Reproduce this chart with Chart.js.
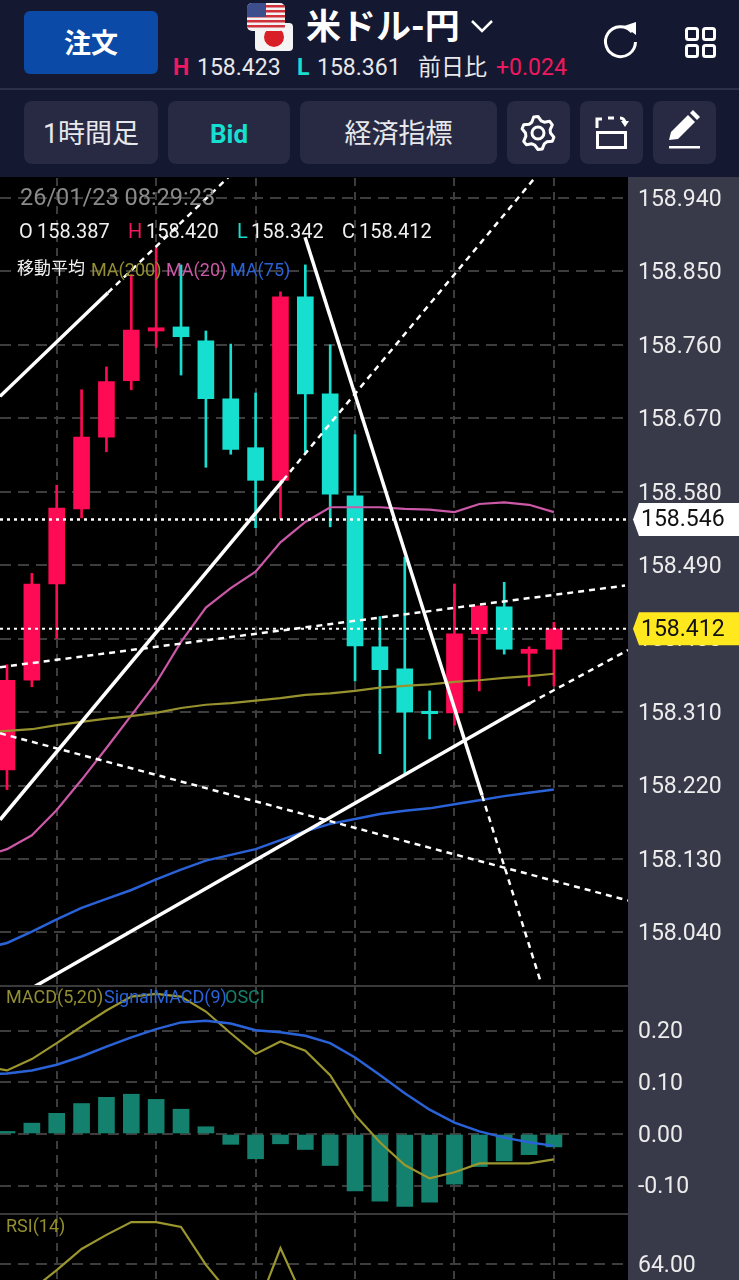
<!DOCTYPE html>
<html lang="ja">
<head>
<meta charset="utf-8">
<title>米ドル-円</title>
<script src="https://cdn.jsdelivr.net/npm/chart.js@4"></script>
<style>
  html, body { margin: 0; padding: 0; background: #000; }
  #page { position: relative; width: 739px; height: 1280px; overflow: hidden; background: #000;
    font-family: Roboto, "Noto Sans CJK JP", sans-serif; color: #fff; }
  #head { position: absolute; left: 0; top: 0; width: 739px; height: 177px; background: #141830; }
  #axisBg { position: absolute; left: 628px; top: 177px; width: 111px; height: 1103px; background: #383a4a; }
  canvas { position: absolute; left: 0; }
  .sep { position: absolute; left: 0; width: 628px; height: 2px; background: #3a3a3a; }
  .t { position: absolute; white-space: nowrap; }
  .btn { position: absolute; top: 101px; height: 63px; line-height: 66px; border-radius: 8px; background: #272a42;
    text-align: center; font-size: 27px; color: #e8e8ec; }
  svg { position: absolute; overflow: visible; }
</style>
</head>
<body>
<div id="page">
  <div id="head"></div>
  <div style="position:absolute;left:0;top:88px;width:739px;height:2px;background:#2b2f49"></div>

  <div style="position:absolute;left:24px;top:11px;width:134px;height:63px;border-radius:6px;background:#0b4aa6;text-align:center;line-height:66px;font-size:27px;font-weight:700">注文</div>

  <!-- 通貨ペアの国旗 -->
  <svg style="left:0;top:0" width="739" height="90">
    <defs><clipPath id="usClip"><rect x="247" y="3" width="38" height="28" rx="5"/></clipPath></defs>
    <rect x="255" y="23" width="38" height="28" rx="4" fill="#f4f4f4"/>
    <circle cx="274" cy="37" r="10" fill="#d81f26"/>
    <g clip-path="url(#usClip)">
      <rect x="247" y="3" width="38" height="28" fill="#f3f3f3"/>
      <rect x="247" y="5" width="38" height="2.5" fill="#d0303a"/>
      <rect x="247" y="10" width="38" height="2.5" fill="#d0303a"/>
      <rect x="247" y="15" width="38" height="2.5" fill="#d0303a"/>
      <rect x="247" y="20" width="38" height="2.5" fill="#d0303a"/>
      <rect x="247" y="25" width="38" height="2.5" fill="#d0303a"/>
      <rect x="247" y="3" width="19" height="14" fill="#3c4f8c"/>
    </g>
    <path d="M472 21l10 10 10-10" fill="none" stroke="#fff" stroke-width="2.5"/>
    <path d="M632 32a15 15 0 1 0 3.5 10" fill="none" stroke="#fff" stroke-width="3"/>
    <path d="M624 26l12-4v13z" fill="#fff"/>
    <g fill="none" stroke="#fff" stroke-width="3" >
      <rect x="686.5" y="28.5" width="11" height="11" rx="2"/>
      <rect x="703.5" y="28.5" width="11" height="11" rx="2"/>
      <rect x="686.5" y="45.5" width="11" height="11" rx="2"/>
      <rect x="703.5" y="45.5" width="11" height="11" rx="2"/>
    </g>
  </svg>

  <div class="t" style="left:306px;top:4px;line-height:48px;font-size:35px;font-weight:700">米ドル-円</div>
  <div class="t" style="left:173px;top:52px;line-height:32px;font-size:23px;font-weight:700;color:#f0185f">H</div>
  <div class="t" style="left:197px;top:52px;line-height:32px;font-size:23px;color:#e8e8ec">158.423</div>
  <div class="t" style="left:297px;top:52px;line-height:32px;font-size:23px;font-weight:700;color:#16dfd0">L</div>
  <div class="t" style="left:317px;top:52px;line-height:32px;font-size:23px;color:#e8e8ec">158.361</div>
  <div class="t" style="left:418px;top:52px;line-height:32px;font-size:23px;color:#e8e8ec">前日比</div>
  <div class="t" style="left:496px;top:52px;line-height:32px;font-size:23px;color:#f0185f">+0.024</div>

  <div class="btn" style="left:24px;width:134px">1時間足</div>
  <div class="btn" style="left:168px;width:122px;color:#16dfd0;font-weight:700;font-size:26px">Bid</div>
  <div class="btn" style="left:300px;width:197px">経済指標</div>
  <div class="btn" style="left:507px;width:63px"></div>
  <div class="btn" style="left:580px;width:63px"></div>
  <div class="btn" style="left:653px;width:63px"></div>

  <svg style="left:0;top:0" width="739" height="177">
    <path id="gear" fill="none" stroke="#fff" stroke-width="3" stroke-linejoin="round"/>
    <circle cx="538" cy="133" r="6" fill="none" stroke="#fff" stroke-width="3"/>
    <rect x="597.5" y="132.5" width="28" height="15" fill="none" stroke="#fff" stroke-width="3"/>
    <path d="M597 128v-9h5M608 118h6M620 118c3 0 5 2 5 6" fill="none" stroke="#fff" stroke-width="3"/>
    <path d="M621 121l4 6 4-6z" fill="#fff"/>
    <path d="M669 140l2-8 17-17 7 7-17 17z" fill="#fff"/>
    <path d="M690 113l3-3 7 7-3 3z" fill="#fff"/>
    <rect x="669" y="146" width="31" height="2.5" fill="#fff"/>
  </svg>

  <div id="axisBg"></div>
  <canvas id="mainChart" style="top:178px" width="739" height="808"></canvas>
  <div class="sep" style="top:985px"></div>
  <canvas id="macdChart" style="top:987px" width="739" height="227"></canvas>
  <div class="sep" style="top:1213px"></div>
  <canvas id="rsiChart" style="top:1215px" width="739" height="65"></canvas>

  <div class="t" style="left:20px;top:183px;line-height:28px;font-size:23.5px;color:#8a8a8a">26/01/23 08:29:23</div>
  <div class="t" style="left:19px;top:218px;line-height:26px;font-size:20px;color:#f0f0f0">O</div>
  <div class="t" style="left:37px;top:218px;line-height:26px;font-size:20px;color:#f0f0f0">158.387</div>
  <div class="t" style="left:128px;top:218px;line-height:26px;font-size:20px;color:#f0185f">H</div>
  <div class="t" style="left:146px;top:218px;line-height:26px;font-size:20px;color:#f0f0f0">158.420</div>
  <div class="t" style="left:237px;top:218px;line-height:26px;font-size:20px;color:#16dfd0">L</div>
  <div class="t" style="left:251px;top:218px;line-height:26px;font-size:20px;color:#f0f0f0">158.342</div>
  <div class="t" style="left:342px;top:218px;line-height:26px;font-size:20px;color:#f0f0f0">C</div>
  <div class="t" style="left:359px;top:218px;line-height:26px;font-size:20px;color:#f0f0f0">158.412</div>

  <div class="t" style="left:17px;top:256px;line-height:24px;font-size:17px;color:#f0f0f0">移動平均</div>
  <div class="t" style="left:91px;top:258px;line-height:24px;font-size:18px;color:#938f30">MA(200)</div>
  <div class="t" style="left:166px;top:258px;line-height:24px;font-size:18px;color:#cc58a8">MA(20)</div>
  <div class="t" style="left:230px;top:258px;line-height:24px;font-size:18px;color:#2a62d8">MA(75)</div>

  <div class="t" style="left:6px;top:985px;line-height:24px;font-size:18px;color:#938f30">MACD(5,20)</div>
  <div class="t" style="left:104px;top:985px;line-height:24px;font-size:18px;color:#2a62d8">SignalMACD(9)</div>
  <div class="t" style="left:225px;top:985px;line-height:24px;font-size:18px;color:#14806e">OSCI</div>
  <div class="t" style="left:6px;top:1214px;line-height:24px;font-size:18px;color:#938f30">RSI(14)</div>
</div>

<script>
// ローソク足 (1時間足)、先頭の1本は画面の左外
const opens  = [158.190, 158.239, 158.349, 158.467, 158.559, 158.647, 158.716, 158.777, 158.782, 158.765, 158.694, 158.634, 158.594, 158.819, 158.700, 158.575, 158.390, 158.363, 158.311, 158.309, 158.406, 158.439, 158.382, 158.387];
const highs  = [158.260, 158.368, 158.480, 158.588, 158.705, 158.733, 158.846, 158.880, 158.858, 158.777, 158.761, 158.701, 158.825, 158.858, 158.760, 158.650, 158.427, 158.500, 158.336, 158.467, 158.440, 158.469, 158.390, 158.420];
const lows   = [158.150, 158.215, 158.341, 158.400, 158.548, 158.629, 158.705, 158.757, 158.723, 158.610, 158.626, 158.536, 158.547, 158.628, 158.537, 158.348, 158.259, 158.235, 158.277, 158.294, 158.336, 158.381, 158.342, 158.342];
const closes = [158.239, 158.349, 158.467, 158.560, 158.647, 158.715, 158.778, 158.781, 158.770, 158.694, 158.632, 158.594, 158.819, 158.700, 158.577, 158.391, 158.362, 158.310, 158.308, 158.406, 158.440, 158.387, 158.387, 158.412];

// 移動平均
const ma200 = [158.285, 158.287, 158.289, 158.294, 158.298, 158.302, 158.305, 158.309, 158.315, 158.319, 158.321, 158.324, 158.327, 158.331, 158.333, 158.336, 158.340, 158.342, 158.344, 158.347, 158.349, 158.352, 158.354, 158.357];
const ma20  = [158.132, 158.142, 158.159, 158.190, 158.227, 158.266, 158.306, 158.346, 158.396, 158.438, 158.462, 158.482, 158.518, 158.543, 158.561, 158.561, 158.561, 158.559, 158.558, 158.555, 158.565, 158.567, 158.564, 158.555];
const ma75  = [158.020, 158.027, 158.041, 158.056, 158.070, 158.081, 158.092, 158.105, 158.117, 158.128, 158.135, 158.142, 158.153, 158.164, 158.173, 158.179, 158.185, 158.189, 158.192, 158.197, 158.202, 158.207, 158.211, 158.215];

// MACD / RSI
const macdLine   = [0.132, 0.123, 0.145, 0.176, 0.208, 0.239, 0.266, 0.271, 0.266, 0.237, 0.195, 0.155, 0.179, 0.161, 0.114, 0.037, -0.016, -0.060, -0.086, -0.074, -0.057, -0.057, -0.057, -0.049];
const signalLine = [0.115, 0.117, 0.123, 0.134, 0.150, 0.169, 0.187, 0.203, 0.216, 0.219, 0.214, 0.201, 0.197, 0.190, 0.176, 0.148, 0.114, 0.079, 0.047, 0.022, 0.005, -0.007, -0.016, -0.023];
const osci       = [0.017, 0.005, 0.021, 0.040, 0.059, 0.071, 0.077, 0.067, 0.048, 0.014, -0.020, -0.048, -0.019, -0.030, -0.061, -0.110, -0.130, -0.140, -0.132, -0.097, -0.063, -0.052, -0.040, -0.025];
const rsiLine    = [45.0, 49.6, 55.9, 62.1, 68.7, 73.1, 77.1, 77.1, 75.6, 63.7, 54.3, 49.0, 69.0, 51.8, 45.0, 33.0, 32.0, 30.0, 30.0, 46.0, 48.0, 44.0, 45.0, 48.0];

// 目盛り
const priceTicks = [158.04, 158.13, 158.22, 158.31, 158.40, 158.49, 158.58, 158.67, 158.76, 158.85, 158.94];
const macdTicks  = [-0.10, 0.00, 0.10, 0.20];
const rsiTicks   = [64];
const gridCandles = [2, 6, 10, 14, 18, 22];

// 水平線の価格
const bidPrice = 158.546;
const lastPrice = 158.412;

// トレンドライン [足の番号, 価格]
const trendSolid = [
  [[-0.28, 158.697], [4.06, 158.824]],
  [[-0.28, 158.178], [11.10, 158.594]],
  [[1.13, 157.974], [21.04, 158.321]],
  [[11.99, 158.892], [19.11, 158.208]]
];
const trendDotted = [
  [[4.06, 158.824], [8.89, 158.965]],
  [[11.10, 158.594], [21.24, 158.965]],
  [[21.04, 158.321], [24.98, 158.386]],
  [[19.11, 158.208], [21.48, 157.978]],
  [[-0.28, 158.365], [24.86, 158.465]],
  [[-0.28, 158.284], [24.98, 158.079]]
];

const UP = "#ff0a54";
const DOWN = "#16dfd0";
const indexes = opens.map((_, i) => i);
const xMin = -0.2816;
const xMax = 24.98;

const series = (values) => indexes.map((i) => ({ x: i - 1, y: values[i] }));
const segment = (pts) => pts.map((p) => ({ x: p[0], y: p[1] }));

const lineSet = (data, color, width, order, dash) => ({
  type: "line",
  data: data,
  borderColor: color,
  borderWidth: width,
  borderDash: dash || [],
  pointRadius: 0,
  tension: 0,
  fill: false,
  order: order,
});

// 3つのペインで共通のオプション
const paneOptions = (yMin, yMax, ticks, digits) => ({
  responsive: false,
  animation: false,
  events: [],
  layout: { padding: 0 },
  plugins: { legend: { display: false }, tooltip: { enabled: false } },
  scales: {
    x: {
      type: "linear",
      min: xMin,
      max: xMax,
      offset: false,
      afterBuildTicks: (scale) => { scale.ticks = gridCandles.map((v) => ({ value: v })); },
      afterFit: (scale) => { scale.height = 0; },
      ticks: { display: false },
      grid: { color: "#3d3d3d", lineWidth: 2, offset: false, drawTicks: false },
      border: { display: false, dash: [8, 6] },
    },
    y: {
      position: "right",
      min: yMin,
      max: yMax,
      afterBuildTicks: (scale) => { scale.ticks = ticks.map((v) => ({ value: v })); },
      // ラベル分の余白を消してペイン全体をプロット領域にする
      afterFit: (scale) => {
        scale.width = 111;
        scale.paddingTop = 0;
        scale.paddingBottom = 0;
      },
      ticks: {
        crossAlign: "near",
        padding: 10,
        labelOffset: 2,
        color: "#ececec",
        font: { family: "Roboto", size: 23 },
        callback: (v) => v.toFixed(digits),
      },
      grid: { color: "#3d3d3d", lineWidth: 2, drawTicks: false },
      border: { display: false, dash: [11, 7] },
    },
  },
});

// 現在値のタグ
const priceTags = {
  id: "priceTags",
  afterDraw(chart) {
    const ctx = chart.ctx;
    const y = chart.scales.y;
    [[bidPrice, "#ffffff"], [lastPrice, "#ffe81e"]].forEach(([price, color]) => {
      const py = y.getPixelForValue(price);
      ctx.save();
      ctx.fillStyle = color;
      ctx.beginPath();
      ctx.moveTo(633, py);
      ctx.lineTo(639, py - 16.5);
      ctx.lineTo(739, py - 16.5);
      ctx.lineTo(739, py + 16.5);
      ctx.lineTo(639, py + 16.5);
      ctx.closePath();
      ctx.fill();
      ctx.fillStyle = "#111";
      ctx.font = "23px Roboto";
      ctx.textBaseline = "middle";
      ctx.fillText(price.toFixed(3), 641, py + 1);
      ctx.restore();
    });
  },
};

new Chart(document.getElementById("mainChart"), {
  type: "bar",
  data: {
    datasets: [
      ...trendSolid.map((t) => lineSet(segment(t), "#ffffff", 3.5, 0)),
      ...trendDotted.map((t) => lineSet(segment(t), "#ffffff", 2.5, 0, [6, 5])),
      lineSet(segment([[xMin, bidPrice], [xMax, bidPrice]]), "#ffffff", 2.5, 0, [3, 4]),
      lineSet(segment([[xMin, lastPrice], [xMax, lastPrice]]), "#ffffff", 2, 0, [3, 4]),
      lineSet(series(ma200), "#97922e", 2.2, 1),
      lineSet(series(ma20), "#cc58a8", 2.2, 1),
      lineSet(series(ma75), "#2a62d8", 2.5, 1),
      {
        data: indexes.map((i) => ({ x: i - 1, y: [opens[i], closes[i]] })),
        backgroundColor: indexes.map((i) => (closes[i] >= opens[i] ? UP : DOWN)),
        barThickness: 16,
        grouped: false,
        order: 2,
      },
      {
        data: indexes.map((i) => ({ x: i - 1, y: [lows[i], highs[i]] })),
        backgroundColor: indexes.map((i) => (closes[i] >= opens[i] ? UP : DOWN)),
        barThickness: 2,
        grouped: false,
        order: 3,
      },
    ],
  },
  options: paneOptions(157.97431, 158.96451, priceTicks, 3),
  plugins: [priceTags],
});

new Chart(document.getElementById("macdChart"), {
  type: "bar",
  data: {
    datasets: [
      lineSet(series(signalLine), "#2a62d8", 2.5, 0),
      lineSet(series(macdLine), "#9c962e", 2.2, 1),
      {
        data: series(osci),
        backgroundColor: "#14806e",
        barThickness: 16,
        grouped: false,
        order: 2,
      },
    ],
  },
  options: paneOptions(-0.15483, 0.2845, macdTicks, 2),
});

new Chart(document.getElementById("rsiChart"), {
  type: "bar",
  data: { datasets: [lineSet(series(rsiLine), "#9c962e", 2.2, 0)] },
  options: paneOptions(59, 79.31, rsiTicks, 2),
});

// 歯車アイコン
const gearPoints = [];
for (let i = 0; i < 24; i++) {
  const a = (i * Math.PI) / 12 + Math.PI / 12;
  const r = i % 4 < 2 ? 16.5 : 12.5;
  gearPoints.push((538 + r * Math.cos(a)).toFixed(1) + " " + (133 + r * Math.sin(a)).toFixed(1));
}
document.getElementById("gear").setAttribute("d", "M" + gearPoints.join("L") + "Z");
</script>
</body>
</html>
